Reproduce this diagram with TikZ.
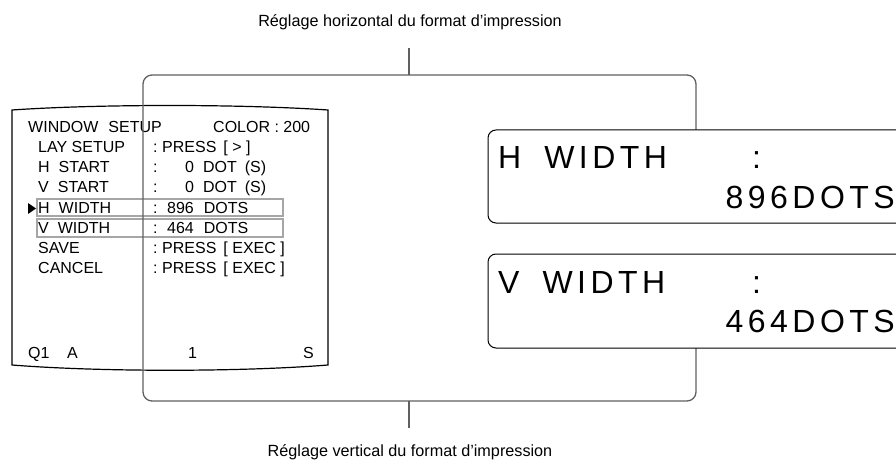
\documentclass[tikz,border=0pt]{standalone}
\usepackage{fontspec}
\setmainfont{Liberation Sans}
\newfontfamily\lcdfont[LetterSpace=14]{Liberation Sans}
\usetikzlibrary{positioning}
\tikzset{
  screenline/.style={line width=1.2pt,black},
  menutext/.style={anchor=base west,inner sep=0pt,font=\fontsize{16}{16}\selectfont},
  selbox/.style={draw=gray!70,line width=1.8pt},
  bracketline/.style={draw=gray!75!black,line width=1.3pt,rounded corners=9pt},
  lcdbox/.style={draw,line width=1pt,rounded corners=8pt,fill=white},
  lcdtext/.style={anchor=base west,inner sep=0pt,font=\lcdfont\fontsize{32}{32}\selectfont},
  caption/.style={inner sep=0pt,font=\fontsize{16.2}{16.2}\selectfont}
}
\begin{document}
\begin{tikzpicture}[x=1pt,y=-1pt]
  \clip (0,0) rectangle (896,465);
  \fill[white] (0,0) rectangle (896,465);

  % monitor screen
  \draw[screenline] (12,110) .. controls (100,104) and (240,104) .. (328,110)
    -- (328,365) .. controls (240,372) and (100,372) .. (12,365) -- cycle;
  \node[menutext] (title) at (28,133) {WINDOW\hspace{10pt}SETUP};
  \node[menutext] (color) at (213,133) {COLOR : 200};
  \foreach \y/\lab/\vx/\val [count=\i] in {
      153/LAY SETUP/162/{PRESS\hspace{7pt}[ > ]},
      173/H\hspace{9pt}START/185/{0\hspace{9pt}DOT\hspace{8pt}(S)},
      193/V\hspace{9pt}START/185/{0\hspace{9pt}DOT\hspace{8pt}(S)},
      213/H\hspace{9pt}WIDTH/167/{896\hspace{10pt}DOTS},
      233/V\hspace{9pt}WIDTH/167/{464\hspace{10pt}DOTS},
      253/SAVE/162/{PRESS\hspace{7pt}[ EXEC ]},
      273/CANCEL/162/{PRESS\hspace{7pt}[ EXEC ]}}{
    \node[menutext] (lab\i) at (38,\y) {\lab};
    \node[menutext] (col\i) at (153,\y) {:};
    \node[menutext] (val\i) at (\vx,\y) {\val};
  }
  \node[menutext] (qone) at (28,358) {Q1};
  \node[menutext] (qa) at (67,358) {A};
  \node[menutext] (qnum) at (188,358) {1};
  \node[menutext] (qs) at (303,358) {S};

  % selected rows
  \draw[selbox] (37,199) rectangle (283,216);
  \draw[selbox] (37,219) rectangle (283,237);
  \fill (28,203) -- (36,208.5) -- (28,214) -- cycle;

  % bracket round the settings
  \node[caption] (hcap) at (410,22) {Réglage horizontal du format d’impression};
  \node[caption] (vcap) at (410,452) {Réglage vertical du format d’impression};
  \coordinate (htick) at (409,48);
  \coordinate (vtick) at (409,428);
  \draw[bracketline] (696,130) -- (696,75) -- (143,75) -- (143,401) -- (696,401) -- (696,348);
  \draw[draw=gray!75!black,line width=1.3pt] (htick) -- (409,75);
  \draw[draw=gray!75!black,line width=1.3pt] (vtick) -- (409,401);

  % display panels
  \draw[lcdbox] (488,130) rectangle (920,223);
  \draw[lcdbox] (488,254) rectangle (920,348);
  \node[lcdtext] (hname) at (498,168.5) {H\hspace{23pt}WIDTH};
  \node[lcdtext] (hcolon) at (752,168.5) {:};
  \node[lcdtext,anchor=base east] (hval) at (895,208.5) {896DOTS};
  \node[lcdtext] (vname) at (498,293.5) {V\hspace{23pt}WIDTH};
  \node[lcdtext] (vcolon) at (752,293.5) {:};
  \node[lcdtext,anchor=base east] (vval) at (895,332.5) {464DOTS};
\end{tikzpicture}
\end{document}
